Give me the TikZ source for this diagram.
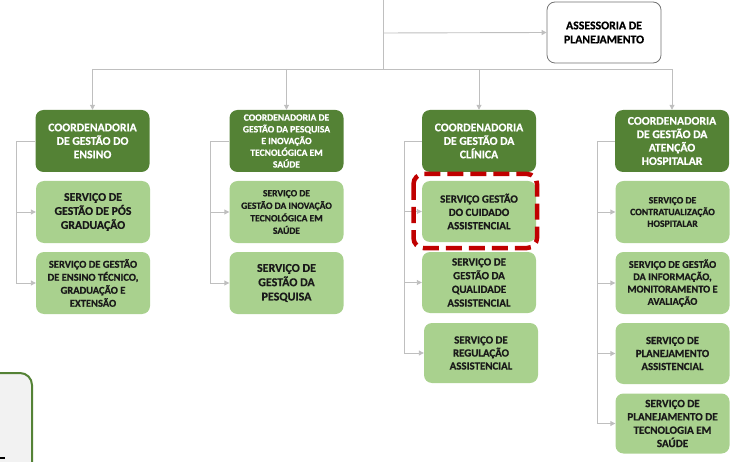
\documentclass[tikz,border=0pt]{standalone}
\usepackage{fontspec}
\setmainfont{Carlito}[BoldFeatures={FakeBold=0.6}]
\usetikzlibrary{arrows.meta}
\definecolor{dkgreen}{HTML}{548235}
\definecolor{ltgreen}{HTML}{A9D18E}
\definecolor{conn}{HTML}{BFBFBF}
\definecolor{redd}{HTML}{C00000}
\definecolor{boxgray}{HTML}{F2F2F2}
\definecolor{txt}{HTML}{1A1A1A}
\tikzset{
  box/.style={rounded corners=8pt, minimum height=62pt, inner sep=1pt, align=center},
  coord/.style={box, fill=dkgreen, text=white, minimum width=114pt},
  serv/.style={box, fill=ltgreen, text=txt, minimum width=114pt},
  link/.style={draw=conn, line width=0.9pt},
  arr/.style={link, -{Triangle[length=5pt,width=5pt]}},
  fs/.style n args={2}{font=\fontsize{#1}{#2}\selectfont\bfseries},
}
\begin{document}
\begin{tikzpicture}[x=1pt,y=-1pt]
\useasboundingbox (0,0) rectangle (743,462);
% bottom-left partial box
\fill[boxgray,draw=dkgreen,line width=2pt,rounded corners=12pt] (-30,373) rectangle (32,500);
\fill[black] (0,457.2) rectangle (4.5,458.8);
% top
\node[box, draw=black!55, fill=white, line width=0.8pt, minimum width=114pt, minimum height=61pt, text=black, fs={11.8}{14}] (asses) at (604,32.5) {ASSESSORIA DE\\PLANEJAMENTO};
\coordinate (top) at (383,0);
\coordinate (bus) at (383,69);
\coordinate (mid) at (383,33);
% coordinators
\node[coord, fs={11.7}{13.5}] (c1) at (92.5,141) {COORDENADORIA\\DE GESTÃO DO\\ENSINO};
\node[coord, fs={9.6}{11.7}] (c2) at (286.5,141) {COORDENADORIA DE\\GESTÃO DA PESQUISA\\E INOVAÇÃO\\TECNOLÓGICA EM\\SAÚDE};
\node[coord, fs={11.7}{13.5}] (c3) at (479,141) {COORDENADORIA\\DE GESTÃO DA\\CLÍNICA};
\node[coord, fs={11.7}{13.4}] (c4) at (672,141) {COORDENADORIA\\DE GESTÃO DA\\ATENÇÃO\\HOSPITALAR};
% services col1
\node[serv, fs={11.8}{14}] (s1a) at (93,212) {SERVIÇO DE\\GESTÃO DE PÓS\\GRADUAÇÃO};
\node[serv, fs={10.5}{13}] (s1b) at (93,283) {SERVIÇO DE GESTÃO\\DE ENSINO TÉCNICO,\\GRADUAÇÃO E\\EXTENSÃO};
% col2
\node[serv, fs={9.6}{12.5}] (s2a) at (286.5,212) {SERVIÇO DE\\GESTÃO DA INOVAÇÃO\\TECNOLÓGICA EM\\SAÚDE};
\node[serv, fs={12}{14.3}] (s2b) at (286.5,283) {SERVIÇO DE\\GESTÃO DA\\PESQUISA};
% col3
\node[serv, fs={11}{13.3}, minimum height=61pt] (s3a) at (479,211.5) {SERVIÇO GESTÃO\\DO CUIDADO\\ASSISTENCIAL};
\node[serv, fs={11}{13.7}, minimum height=61pt] (s3b) at (479,282.5) {SERVIÇO DE\\GESTÃO DA\\QUALIDADE\\ASSISTENCIAL};
\node[serv, fs={10.9}{13}, minimum height=60pt] (s3c) at (481,353) {SERVIÇO DE\\REGULAÇÃO\\ASSISTENCIAL};
% col4
\node[serv, fs={9.7}{11.7}] (s4a) at (672.5,212) {SERVIÇO DE\\CONTRATUALIZAÇÃO\\HOSPITALAR};
\node[serv, fs={10.4}{12.3}] (s4b) at (672.5,283) {SERVIÇO DE GESTÃO\\DA INFORMAÇÃO,\\MONITORAMENTO E\\AVALIAÇÃO};
\node[serv, fs={10.8}{13}, minimum height=61pt] (s4c) at (672.5,353.5) {SERVIÇO DE\\PLANEJAMENTO\\ASSISTENCIAL};
\node[serv, fs={11.1}{13.3}, minimum height=60pt] (s4d) at (672.5,423.5) {SERVIÇO DE\\PLANEJAMENTO DE\\TECNOLOGIA EM\\SAÚDE};
% connectors top
\draw[link] (top) -- (bus);
\draw[arr] (mid) -- (asses.west);
\draw[link] (c1.north |- bus) -- (c4.north |- bus);
\foreach \c in {c1,c2,c3,c4} \draw[arr] (\c.north |- bus) -- (\c.north);
% rails
\coordinate (r1) at (16,0);
\coordinate (r2) at (210,0);
\coordinate (r3) at (404,0);
\coordinate (r4) at (597,0);
\draw[link] (c1.west) -- (r1 |- c1.west) -- (r1 |- s1b.west);
\foreach \s in {s1a,s1b} \draw[arr] (r1 |- \s.west) -- (\s.west);
\draw[link] (c2.west) -- (r2 |- c2.west) -- (r2 |- s2b.west);
\foreach \s in {s2a,s2b} \draw[arr] (r2 |- \s.west) -- (\s.west);
\draw[link] (c3.west) -- (r3 |- c3.west) -- (r3 |- s3c.west);
\foreach \s in {s3a,s3b,s3c} \draw[arr] (r3 |- \s.west) -- (\s.west);
\draw[link] (c4.west) -- (r4 |- c4.west) -- (r4 |- s4d.west);
\foreach \s in {s4a,s4b,s4c,s4d} \draw[arr] (r4 |- \s.west) -- (\s.west);
% highlight
\draw[redd, line width=4.5pt, rounded corners=10pt, dash pattern=on 16pt off 7pt] (413.5,174) rectangle (537,248);
\end{tikzpicture}
\end{document}
